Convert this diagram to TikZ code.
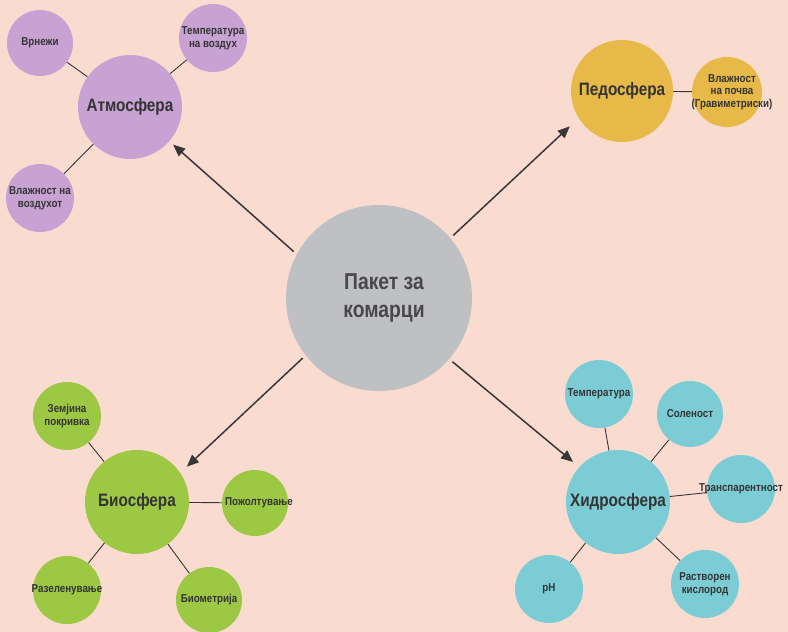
\documentclass[tikz,border=0pt]{standalone}
\usepackage{fontspec}
\setmainfont{Liberation Sans}
\newfontfamily\narrowsans[FakeStretch=0.85]{Liberation Sans}
\newfontfamily\coresans[FakeStretch=0.84]{Liberation Sans}
\usetikzlibrary{arrows.meta}
\definecolor{bgpeach}{RGB}{249,219,208}
\definecolor{coregray}{RGB}{190,192,196}
\definecolor{atmpurple}{RGB}{200,162,210}
\definecolor{pedyellow}{RGB}{230,185,72}
\definecolor{biogreen}{RGB}{157,200,67}
\definecolor{hydblue}{RGB}{124,204,214}
\definecolor{txtdark}{RGB}{52,52,52}
\definecolor{linedark}{RGB}{55,55,55}

\tikzset{
  hub/.style={circle, inner sep=0pt, minimum size=104pt},
  leaf/.style={circle, inner sep=0pt, minimum size=68pt},
  hubtxt/.style={font=\narrowsans\bfseries\fontsize{18}{20}\selectfont, text=txtdark},
  leaftxt/.style={font=\narrowsans\bfseries\fontsize{11.5}{12.5}\selectfont, text=txtdark, align=center},
  link/.style={draw=linedark, line width=0.9pt},
  feed/.style={draw=linedark, line width=1.5pt, -{Triangle[length=12pt,width=10pt]}}
}

\begin{document}
\begin{tikzpicture}[x=1pt,y=-1pt]
    \useasboundingbox (0,0) rectangle (788,632);
    \fill[bgpeach] (0,0) rectangle (788,632);

    % centre
    \node[circle, inner sep=0pt, minimum size=186pt, fill=coregray,
      label={[font=\coresans\bfseries\fontsize{23}{28}\selectfont, text=txtdark!90, align=center, xshift=5pt]center:Пакет за\\комарци}] (core) at (379,298) {};

    % Атмосфера
    \node[hub, fill=atmpurple, label={[hubtxt]center:Атмосфера}] (atm) at (130,107) {};
    \node[leaf, minimum size=66pt, fill=atmpurple, label={[leaftxt]center:Врнежи}] (rain) at (40,43) {};
    \node[leaf, fill=atmpurple, label={[leaftxt]center:Температура\\на воздух}] (airtemp) at (213,38) {};
    \node[leaf, fill=atmpurple, label={[leaftxt]center:Влажност на\\воздухот}] (airhum) at (40,198) {};
    \draw[link] (atm) -- (rain);
    \draw[link] (atm) -- (airtemp);
    \draw[link] (atm) -- (airhum);

    % Педосфера
    \node[hub, minimum size=102pt, fill=pedyellow, label={[hubtxt]center:Педосфера}] (ped) at (622,91) {};
    \node[leaf, minimum size=70pt, fill=pedyellow, label={[leaftxt, xshift=5pt]center:Влажност\\на почва\\(Гравиметриски)}] (soilhum) at (727,92) {};
    \draw[link] (ped) -- (soilhum);

    % Биосфера
    \node[hub, fill=biogreen, label={[hubtxt]center:Биосфера}] (bio) at (137,502) {};
    \node[leaf, fill=biogreen, label={[leaftxt]center:Земјина\\покривка}] (cover) at (67,416) {};
    \node[leaf, minimum size=66pt, fill=biogreen, label={[leaftxt, xshift=4pt]center:Пожолтување}] (yellowing) at (255,503) {};
    \node[leaf, fill=biogreen, label={[leaftxt]center:Разеленување}] (greening) at (67,590) {};
    \node[leaf, minimum size=66pt, fill=biogreen, label={[leaftxt]center:Биометрија}] (biometry) at (209,600) {};
    \draw[link] (bio) -- (cover);
    \draw[link] (bio) -- (yellowing);
    \draw[link] (bio) -- (greening);
    \draw[link] (bio) -- (biometry);

    % Хидросфера
    \node[hub, fill=hydblue, label={[hubtxt]center:Хидросфера}] (hyd) at (618,502) {};
    \node[leaf, fill=hydblue, label={[leaftxt]center:Температура}] (watertemp) at (599,394) {};
    \node[leaf, minimum size=66pt, fill=hydblue, label={[leaftxt]center:Соленост}] (salinity) at (690,414) {};
    \node[leaf, fill=hydblue, label={[leaftxt]center:Транспарентност}] (transp) at (741,489) {};
    \node[leaf, fill=hydblue, label={[leaftxt]center:Растворен\\кислород}] (oxygen) at (705,584) {};
    \node[leaf, fill=hydblue, label={[leaftxt]center:pH}] (ph) at (549,589) {};
    \draw[link] (hyd) -- (watertemp);
    \draw[link] (hyd) -- (salinity);
    \draw[link] (hyd) -- (transp);
    \draw[link] (hyd) -- (oxygen);
    \draw[link] (hyd) -- (ph);

    % Arrows
    \draw[feed, shorten <=4pt, shorten >=5pt] (core.152) -- (atm.-41);
    \draw[feed, shorten <=4pt, shorten >=12pt] (core.40) -- (ped.-148);
    \draw[feed, shorten <=4pt, shorten >=9pt] (core.-142) -- (bio.34);
    \draw[feed, shorten <=4pt, shorten >=8pt] (core.-41) -- (hyd.138);
\end{tikzpicture}
\end{document}
